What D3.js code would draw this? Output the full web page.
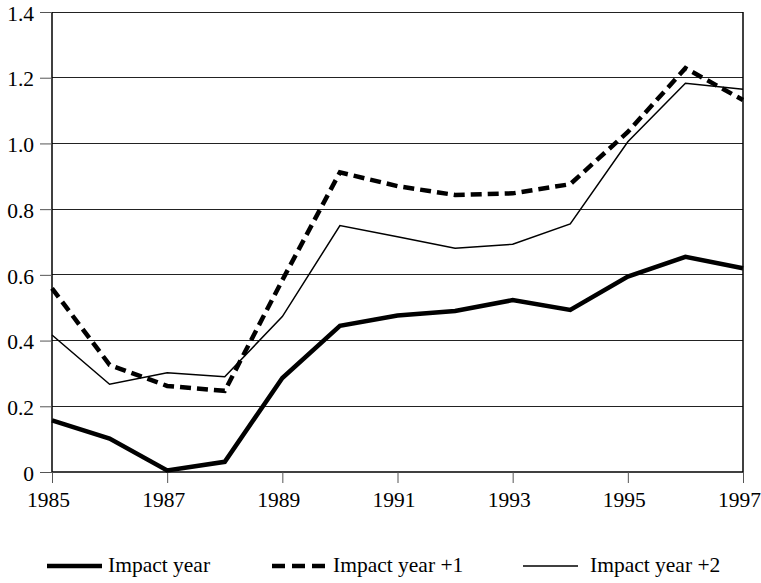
<!DOCTYPE html>
<html><head><meta charset="utf-8">
<script src="https://cdn.jsdelivr.net/npm/d3@7"></script>
<style>body{margin:0;background:#fff}svg{display:block}text{font-family:"Liberation Serif","Times New Roman",Times,serif;fill:#000}</style>
</head><body><svg id="c" width="761" height="583"></svg>
<script>
const years = [1985,1986,1987,1988,1989,1990,1991,1992,1993,1994,1995,1996,1997];
const impactYear  = [0.157,0.102,0.005,0.031,0.286,0.445,0.476,0.490,0.523,0.493,0.595,0.655,0.620];
const impactYear1 = [0.559,0.326,0.262,0.247,0.584,0.912,0.870,0.843,0.848,0.876,1.035,1.229,1.132];
const impactYear2 = [0.417,0.267,0.302,0.290,0.473,0.750,0.716,0.681,0.693,0.755,1.005,1.183,1.165];
const xTicks = [1985,1987,1989,1991,1993,1995,1997];
const yTicks = [0,0.2,0.4,0.6,0.8,1.0,1.2,1.4];
const seriesNames = ["Impact year","Impact year +1","Impact year +2"];

const FONT = '"Liberation Serif","Times New Roman",Times,serif';
const FS = "21.5px";
const svg = d3.select("#c");
const L=52,R=743,T=12,B=472;
const x = d3.scaleLinear().domain([1985,1997]).range([L,R]);
const y = d3.scaleLinear().domain([0,1.4]).range([B,T]);

svg.append("g").selectAll("line").data(yTicks.filter(d=>d>0)).join("line")
  .attr("x1",L).attr("x2",R).attr("y1",d=>y(d)).attr("y2",d=>y(d))
  .attr("stroke","#222").attr("stroke-width",1).attr("shape-rendering","crispEdges");
svg.append("line").attr("x1",R).attr("x2",R).attr("y1",T).attr("y2",B)
  .attr("stroke","#000").attr("stroke-width",1.5);

const yAxis = svg.append("g").attr("transform",`translate(${L},0)`)
  .call(d3.axisLeft(y).tickValues(yTicks).tickSize(12).tickPadding(6).tickFormat(d=>d===0?"0":d3.format(".1f")(d)));
const xAxis = svg.append("g").attr("transform",`translate(0,${B})`)
  .call(d3.axisBottom(x).tickValues(xTicks).tickSize(11).tickPadding(9).tickFormat(d3.format("d")));
[yAxis,xAxis].forEach(a=>{
  a.attr("font-family",FONT).attr("font-size",21.5);
  a.select(".domain").attr("stroke","#000").attr("stroke-width",1.5);
  a.selectAll(".tick line").attr("stroke","#555");
  a.selectAll("text").style("font-family",FONT).style("font-size",FS).attr("fill","#000");
});
xAxis.selectAll(".tick text").attr("dx",-4);
yAxis.selectAll(".tick text").attr("dy","0.38em");
yAxis.select(".domain").attr("d",`M0,${T}V${B}`);
xAxis.select(".domain").attr("d",`M${L},0H${R}`);

const line = d3.line().x((d,i)=>x(years[i])).y(d=>y(d));
const styles = [
  {w:4.5, dash:null},
  {w:4.5, dash:"11,6"},
  {w:1.5, dash:null}
];
[impactYear,impactYear1,impactYear2].forEach((s,i)=>{
  svg.append("path").datum(s).attr("d",line).attr("fill","none")
    .attr("stroke","#000").attr("stroke-width",styles[i].w)
    .attr("stroke-dasharray",styles[i].dash).attr("stroke-linejoin","miter");
});

const legX = [47,272,523];
const legT = [108,333,590];
const lg = svg.append("g");
seriesNames.forEach((n,i)=>{
  lg.append("line").attr("x1",legX[i]).attr("x2",legX[i]+55).attr("y1",566).attr("y2",566)
    .attr("stroke","#000").attr("stroke-width",styles[i].w).attr("stroke-dasharray",i===1?"13,7":styles[i].dash);
  lg.append("text").attr("x",legT[i]).attr("y",572).style("font-family",FONT).style("font-size",FS).text(n);
});
</script></body></html>
